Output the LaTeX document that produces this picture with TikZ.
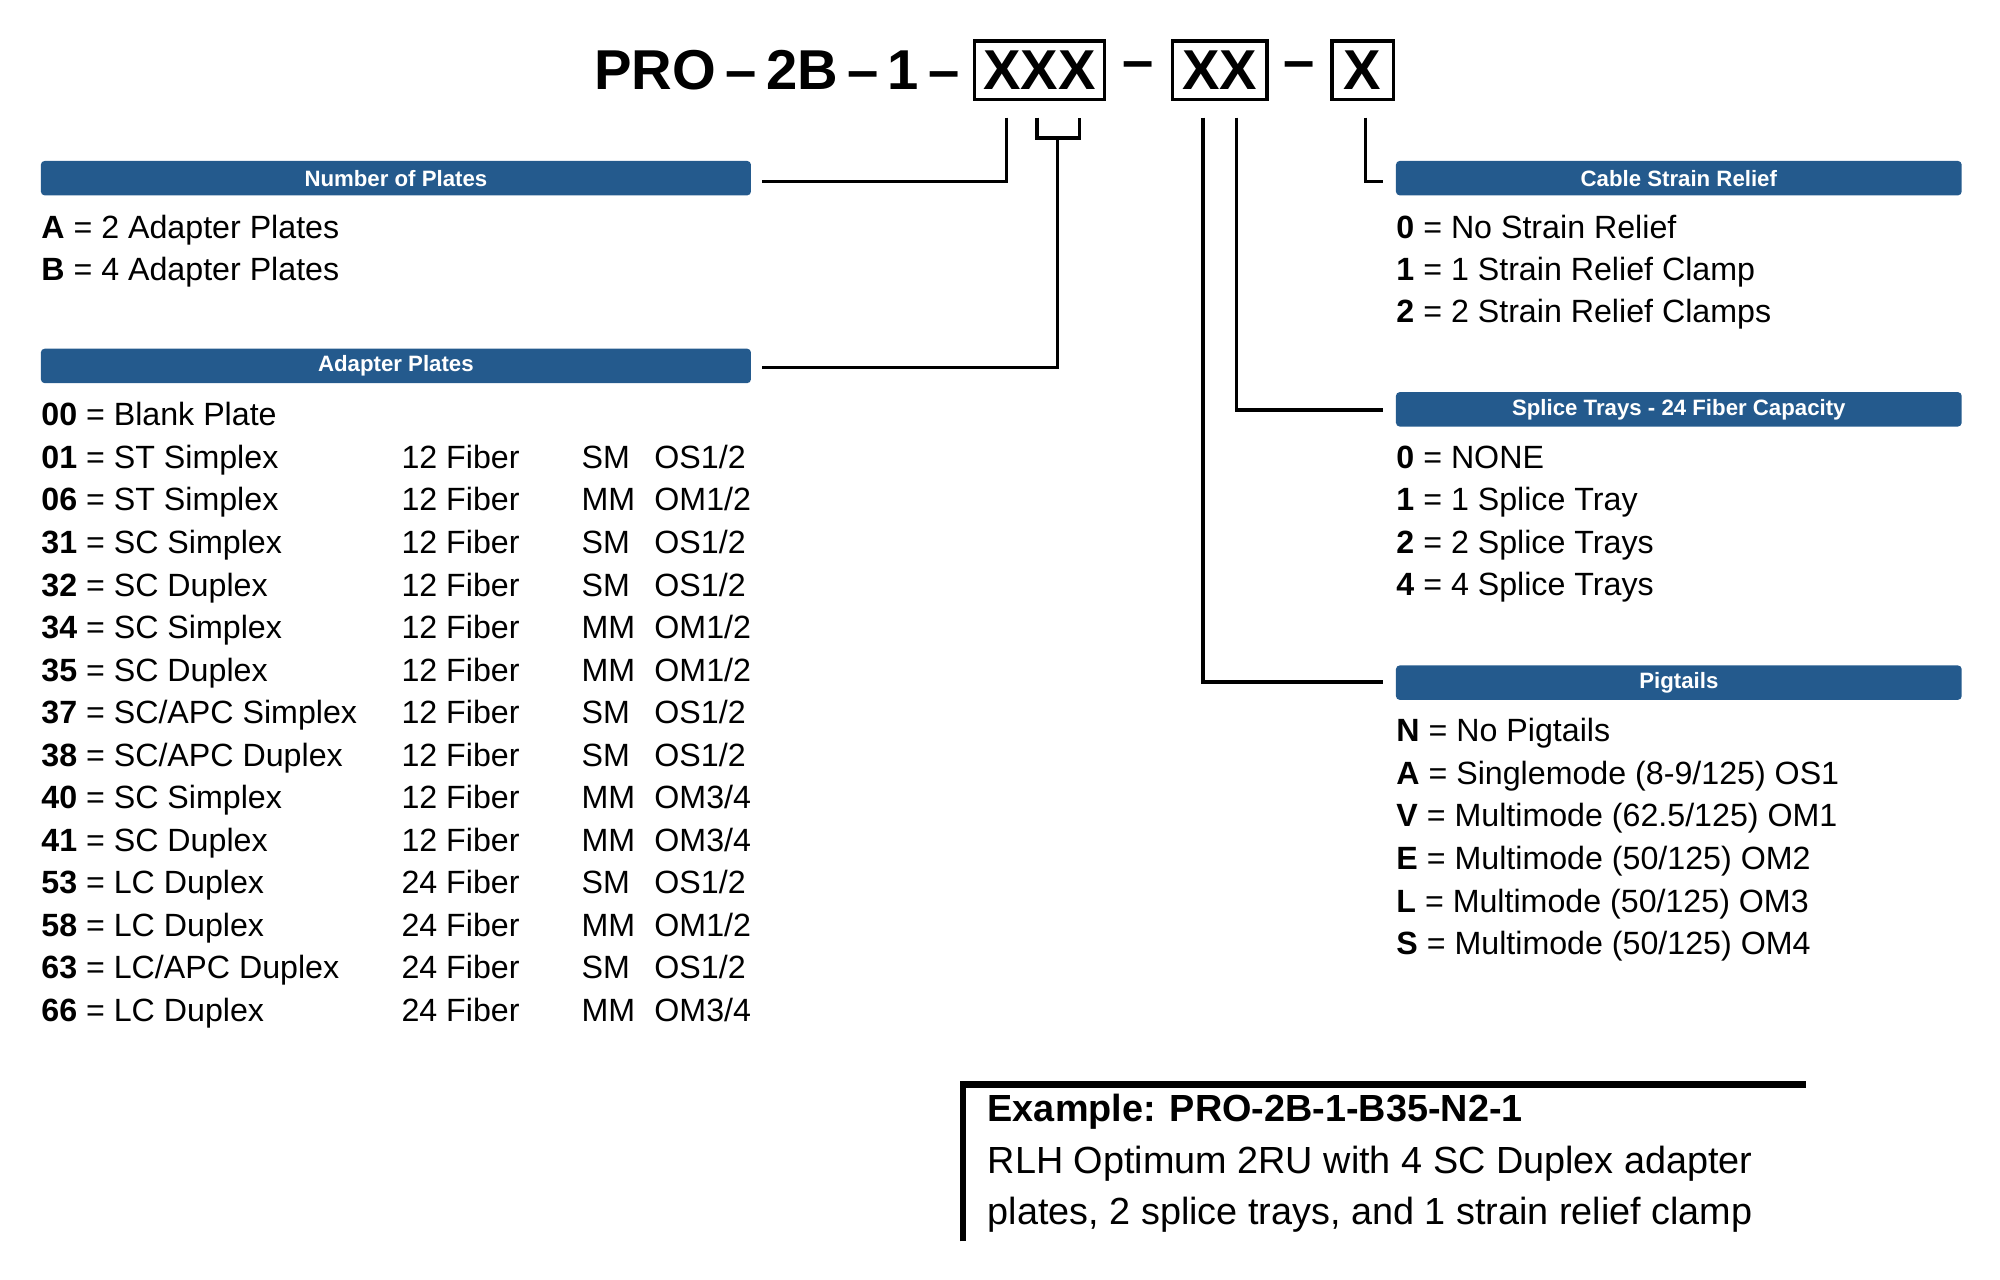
\documentclass[tikz,border=0pt]{standalone}
\usepackage{fontspec}
\setmainfont{Liberation Sans}
\definecolor{bar}{HTML}{245A8D}
\begin{document}
\begin{tikzpicture}[x=0.5pt,y=-0.5pt,
  hdr/.style={fill=bar,rounded corners=1.5pt,text=white,font=\fontsize{8.7}{10}\selectfont\bfseries,inner sep=0pt},
  row/.style={anchor=base west,inner sep=0pt,font=\fontsize{12.6}{14}\selectfont},
  ttl/.style={inner sep=0pt,font=\fontsize{22}{26}\selectfont\bfseries},
  box/.style={draw,line width=1.3pt,inner sep=0pt},
  con/.style={line width=1.3pt}]
\useasboundingbox (0,0) rectangle (1566,1002);
% title
\node[ttl,anchor=east] (pre) at (752,55) {PRO\,–\,2B\,–\,1\,–};
\node[box,minimum width=51pt,minimum height=23pt,ttl] (b1) at (814,55) {XXX};
\node[ttl] (d1) at (891,55) {–};
\node[box,minimum width=37pt,minimum height=23pt,ttl] (b2) at (955,55) {XX};
\node[ttl] (d2) at (1017,55) {–};
\node[box,minimum width=24pt,minimum height=23pt,ttl] (b3) at (1067,55) {X};
% headers
\node[hdr,minimum width=278pt,minimum height=13.5pt] (h1) at (310,139.5) {Number of Plates};
\node[hdr,minimum width=278pt,minimum height=13.5pt] (h2) at (310,286.5) {Adapter Plates};
\node[hdr,minimum width=221.5pt,minimum height=13.5pt] (h3) at (1314.5,139.5) {Cable Strain Relief};
\node[hdr,minimum width=221.5pt,minimum height=13.5pt] (h4) at (1314.5,320.5) {Splice Trays - 24 Fiber Capacity};
\node[hdr,minimum width=221.5pt,minimum height=13.5pt] (h5) at (1314.5,534.5) {Pigtails};
% connectors
\coordinate (c1a) at (788,92); \coordinate (c1b) at (597,142);
\draw[con] (c1a) |- (c1b);
\coordinate (k1) at (812,92); \coordinate (k2) at (845,92); \coordinate (k3) at (828,108); \coordinate (k4) at (597,288);
\draw[con] (k1) |- (k3) -| (k2);
\draw[con] (k3) |- (k4);
\coordinate (p1) at (942,92); \coordinate (p2) at (1083,534);
\draw[con] (p1) |- (p2);
\coordinate (s1) at (968,92); \coordinate (s2) at (1083,321);
\draw[con] (s1) |- (s2);
\coordinate (r1) at (1069,92); \coordinate (r2) at (1083,142);
\draw[con] (r1) |- (r2);
% number of plates
\node[row] (na) at (32,186.5) {\textbf{A} = 2 Adapter Plates};
\node[row] (nb) at (32,219.5) {\textbf{B} = 4 Adapter Plates};
% adapter plates
\node[row] (a0) at (32,333.5) {\textbf{00} = Blank Plate};
\foreach \c/\n/\f/\m/\o [count=\i] in {
 01/ST Simplex/12/SM/OS1\slash 2, 06/ST Simplex/12/MM/OM1\slash 2,
 31/SC Simplex/12/SM/OS1\slash 2, 32/SC Duplex/12/SM/OS1\slash 2,
 34/SC Simplex/12/MM/OM1\slash 2, 35/SC Duplex/12/MM/OM1\slash 2,
 37/SC\slash APC Simplex/12/SM/OS1\slash 2, 38/SC\slash APC Duplex/12/SM/OS1\slash 2,
 40/SC Simplex/12/MM/OM3\slash 4, 41/SC Duplex/12/MM/OM3\slash 4,
 53/LC Duplex/24/SM/OS1\slash 2, 58/LC Duplex/24/MM/OM1\slash 2,
 63/LC\slash APC Duplex/24/SM/OS1\slash 2, 66/LC Duplex/24/MM/OM3\slash 4}{
 \pgfmathsetmacro\yy{333.5+33.3*\i}
 \node[row] (a\i) at (32,\yy) {\textbf{\c} = \n};
 \node[row] (f\i) at (314,\yy) {\f\ Fiber};
 \node[row] (m\i) at (455,\yy) {\m};
 \node[row] (o\i) at (512,\yy) {\o};
}
% strain relief
\node[row] (r0) at (1093,186.5) {\textbf{0} = No Strain Relief};
\node[row] (r1n) at (1093,219.5) {\textbf{1} = 1 Strain Relief Clamp};
\node[row] (r2n) at (1093,252.5) {\textbf{2} = 2 Strain Relief Clamps};
% splice
\node[row] (t0) at (1093,366.5) {\textbf{0} = NONE};
\node[row] (t1) at (1093,399.5) {\textbf{1} = 1 Splice Tray};
\node[row] (t2) at (1093,433.5) {\textbf{2} = 2 Splice Trays};
\node[row] (t4) at (1093,466.5) {\textbf{4} = 4 Splice Trays};
% pigtails
\node[row] (gN) at (1093,580.5) {\textbf{N} = No Pigtails};
\node[row] (gA) at (1093,614.5) {\textbf{A} = Singlemode (8-9/125) OS1};
\node[row] (gV) at (1093,647.5) {\textbf{V} = Multimode (62.5/125) OM1};
\node[row] (gE) at (1093,680.5) {\textbf{E} = Multimode (50/125) OM2};
\node[row] (gL) at (1093,714.5) {\textbf{L} = Multimode (50/125) OM3};
\node[row] (gS) at (1093,747.5) {\textbf{S} = Multimode (50/125) OM4};
% example
\coordinate (e1) at (754,972); \coordinate (e2) at (754,849); \coordinate (e3) at (1414,849);
\draw[line width=2.5pt] (e1) -- (e2) -- (e3);
\node[row,font=\fontsize{14.8}{17}\selectfont\bfseries] (ex1) at (773,878) {Example: PRO-2B-1-B35-N2-1};
\node[row,font=\fontsize{14.8}{17}\selectfont] (ex2) at (773,919) {RLH Optimum 2RU with 4 SC Duplex adapter};
\node[row,font=\fontsize{14.8}{17}\selectfont] (ex3) at (773,959) {plates, 2 splice trays, and 1 strain relief clamp};
\end{tikzpicture}
\end{document}
